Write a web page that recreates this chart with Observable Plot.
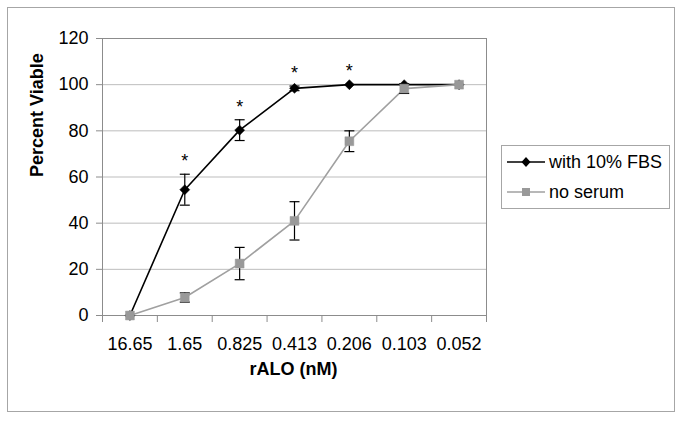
<!DOCTYPE html>
<html><head><meta charset="utf-8">
<script src="https://cdn.jsdelivr.net/npm/d3@7"></script>
<script src="https://cdn.jsdelivr.net/npm/@observablehq/plot@0.6"></script>
<style>
body{margin:0;background:#fff;font-family:"Liberation Sans",Arial,sans-serif;}
#wrap{position:relative;width:685px;height:421px;overflow:hidden;background:#fff;}
#border{position:absolute;left:7px;top:7px;width:666px;height:403px;border:1px solid #a6a6a6;}
#chart{position:absolute;left:0;top:0;}
#legend{position:absolute;left:501px;top:145px;width:167px;height:62px;border:1px solid #a6a6a6;background:#fff;}
.row{position:absolute;left:0;height:20px;width:165px;}
.row svg{position:absolute;left:4px;top:0;}
.row span{position:absolute;left:47px;top:0;line-height:20px;font-size:18px;color:#000;white-space:nowrap;}
</style></head>
<body>
<div id="wrap"><div id="border"></div><div id="chart"></div><div id="legend"></div></div>
<script>
const concentrations = ["16.65", "1.65", "0.825", "0.413", "0.206", "0.103", "0.052"];
const fbsMean = [0, 54.5, 80.3, 98.4, 100, 100, 100];
const fbsErr = [0, 6.7, 4.5, 1, 0, 0, 0];
const serumMean = [0, 7.8, 22.5, 41, 75.5, 98.3, 100];
const serumErr = [0, 2, 7, 8.3, 4.5, 2.1, 0];
const significant = [false, true, true, true, true, false, false];
const seriesNames = ["with 10% FBS", "no serum"];
const yTicks = [0, 20, 40, 60, 80, 100, 120];
const xTitle = "rALO (nM)";
const yTitle = "Percent Viable";

const colors = {fbs: "#000000", serum: "#a0a0a0"};
const fbsRows = concentrations.map((c, i) => ({i, mean: fbsMean[i], err: fbsErr[i], sig: significant[i]}));
const serumRows = concentrations.map((c, i) => ({i, mean: serumMean[i], err: serumErr[i]}));
const capSymbol = {draw(ctx) { ctx.moveTo(-5, 0); ctx.lineTo(5, 0); }};

function errorMarks(rows) {
  const r = rows.filter(d => d.err > 0);
  return [
    Plot.ruleX(r, {x: "i", y1: d => d.mean - d.err, y2: d => d.mean + d.err, stroke: "#000", strokeWidth: 1.2}),
    Plot.dot(r, {x: "i", y: d => d.mean + d.err, symbol: capSymbol, stroke: "#000", fill: "none", strokeWidth: 1.2}),
    Plot.dot(r, {x: "i", y: d => d.mean - d.err, symbol: capSymbol, stroke: "#000", fill: "none", strokeWidth: 1.2})
  ];
}

const chart = Plot.plot({
  width: 685, height: 421,
  marginLeft: 102, marginRight: 199, marginTop: 38, marginBottom: 106,
  style: {fontFamily: "'Liberation Sans', Arial, sans-serif", fontSize: "18px", background: "transparent", color: "#000"},
  x: {type: "linear", domain: [-0.5, concentrations.length - 0.5]},
  y: {domain: [0, 120]},
  marks: [
    Plot.gridY({ticks: yTicks.slice(1, -1), stroke: "#bdbdbd", strokeOpacity: 1}),
    Plot.frame({stroke: "#8c8c8c"}),
    Plot.axisY({ticks: yTicks, tickSize: 6, tickPadding: 8, stroke: "#8c8c8c", fill: "#000", fontSize: 18, label: null}),
    Plot.axisX({ticks: d3.range(-0.5, concentrations.length, 1), tickSize: 7, tickFormat: () => "", stroke: "#8c8c8c", label: null}),
    Plot.axisX({ticks: d3.range(concentrations.length), tickSize: 0, tickPadding: 22, tickFormat: i => concentrations[i], fill: "#000", fontSize: 18, label: null}),
    Plot.text([yTitle], {frameAnchor: "left", text: d => d, rotate: -90, dx: -65, fontSize: 18, fontWeight: "bold", fill: "#000"}),
    Plot.text([xTitle], {frameAnchor: "bottom", text: d => d, dy: 59, dx: -1, fontSize: 18, fontWeight: "bold", fill: "#000"}),
    Plot.line(fbsRows, {x: "i", y: "mean", stroke: colors.fbs, strokeWidth: 1.6}),
    ...errorMarks(fbsRows),
    Plot.dot(fbsRows, {x: "i", y: "mean", symbol: "diamond2", r: 4.5, fill: colors.fbs, stroke: colors.fbs, strokeWidth: 0.5}),
    Plot.text(fbsRows.filter(d => d.sig), {x: "i", y: d => d.mean + d.err, text: () => "*", dy: -13, fontSize: 18, fill: "#000"}),
    Plot.line(serumRows, {x: "i", y: "mean", stroke: colors.serum, strokeWidth: 1.6}),
    ...errorMarks(serumRows),
    Plot.dot(serumRows, {x: "i", y: "mean", symbol: "square", r: 5, fill: "#999999", stroke: "#999999", strokeWidth: 0.5})
  ]
});
document.getElementById("chart").appendChild(chart);

// legend
const legend = document.getElementById("legend");
const legendTops = [6, 36];
seriesNames.forEach((name, k) => {
  const row = document.createElement("div");
  row.className = "row";
  row.style.top = legendTops[k] + "px";
  const col = k === 0 ? colors.fbs : colors.serum;
  const marker = k === 0
    ? `<path d="M20,5 L24.5,10 L20,15 L15.5,10 Z" fill="#000"/>`
    : `<rect x="16" y="6" width="8" height="8" fill="#999"/>`;
  row.innerHTML = `<svg width="40" height="20"><line x1="1" x2="39" y1="10" y2="10" stroke="${col}" stroke-width="1.6"/>${marker}</svg><span>${name}</span>`;
  legend.appendChild(row);
});
</script>
</body></html>
